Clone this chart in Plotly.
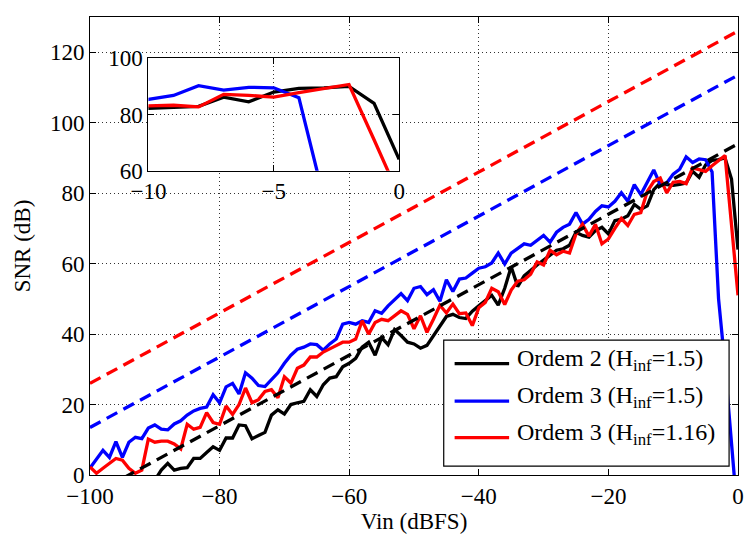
import plotly.graph_objects as go

# ---------------- data ----------------
vin = list(range(-100, 1))

snr_ordem2 = [
    -9, -7, -8, -6, -5, -6, -4, -3, -4, -2, -1.5,
    1.4, 3.3, 1.4, 1.9, 2.1, 4.7, 4.7, 6.4, 8.0, 7.0, 10.5, 10.5, 14.2, 14.0, 10.3,
    11.2, 12.1, 17.0, 18.5, 17.3, 20.0,
    20.5, 20.9, 24.2, 22.3, 25.6, 27.5, 27.9, 30.7, 31.7, 33.1, 36.3, 37.7, 34.0,
    39.0, 37.0, 41.3, 39.6, 37.7, 37.2, 36.0, 36.8, 39.6, 42.6, 45.0, 45.6, 44.7,
    44.4, 46.5, 48.0, 49.5, 51.0, 48.2, 53.0, 59.1, 53.5, 56.5, 58.2, 59.6, 61.0,
    62.4, 63.8, 64.2, 65.2, 68.9,
    68.0, 67.5, 69.4, 70.3, 68.4, 72.2, 72.6, 73.6, 76.8, 75.4, 76.4, 81.0, 82.9, 82.4,
    82.2, 82.5, 82.9, 86.2, 84.5, 88.0, 89.3, 89.5, 90.0, 84.0, 64.0,
]

snr_ordem3 = [
    2.0, 4.5, 7.0, 5.0, 9.5, 5.0, 9.3, 10.7, 10.3, 13.3, 14.2, 13.0, 12.8, 14.5,
    15.4, 17.0, 18.2, 18.9, 19.3, 22.8, 20.5, 25.0, 26.0, 23.0, 29.0, 27.5,
    25.4, 25.1, 27.0, 29.0, 31.7, 34.0, 35.7, 36.3, 37.2, 37.0, 35.4, 37.2, 38.6,
    42.8, 43.3, 42.8, 43.8, 43.3, 46.6, 45.9, 48.0, 49.6, 51.5,
    49.5, 53.0, 53.5, 51.2, 52.6, 49.3, 55.4, 52.1, 55.6, 55.9, 57.3, 58.7, 59.1,
    60.2, 63.0, 59.9, 63.0, 64.2, 65.6, 65.2, 66.6, 68.0, 66.1, 68.9, 70.3, 71.2,
    74.5, 71.2, 72.6, 74.8, 76.4, 76.1, 77.7, 80.1, 77.7, 82.4, 79.6, 82.9, 86.6,
    82.4, 82.9, 85.4,
    86.8, 90.3, 88.7, 89.7, 89.5, 86.0, 50.0, 31.0, 9.0, -13.0,
]

snr_ordem3_116 = [
    2.3, 0.5, 1.9, 3.3, 4.7, 4.2, 1.9, 0.5, 1.4, 10.2, 9.3, 9.6, 9.6, 8.8, 7.4,
    14.4, 13.0, 13.5, 17.7, 14.9, 14.4, 19.6, 17.2, 20.0, 24.7, 20.5,
    21.4, 23.7, 24.2, 21.9, 27.9, 26.1, 30.3, 31.2, 33.5, 33.5, 34.9, 35.8, 36.8,
    37.7, 37.7, 38.6, 43.8, 40.0, 43.3, 44.2, 43.8, 45.2, 46.6, 45.6,
    41.5, 45.2, 40.5, 44.2, 48.2, 46.0, 48.5, 45.8, 46.0, 42.4, 47.5, 49.0, 53.0,
    52.0, 48.4, 52.5, 55.0, 55.4, 57.0, 60.5, 59.6, 63.8, 62.5, 63.5, 63.0,
    68.4, 71.2, 67.8, 71.2, 65.6, 67.0, 70.0, 72.8, 70.8, 74.0, 74.5, 80.5, 83.3,
    84.3, 80.1,
    83.1, 83.3, 82.7, 87.2, 86.8, 86.2, 87.8, 89.3, 90.7, 71.0, 51.0,
]

ideal_x = [-100, 0]
ideal_ordem2 = [-6, 94]
ideal_ordem3 = [13.5, 113.5]
ideal_ordem3_116 = [26, 126]

series_names = ["Ordem 2 (H<sub>inf</sub>=1.5)",
                "Ordem 3 (H<sub>inf</sub>=1.5)",
                "Ordem 3 (H<sub>inf</sub>=1.16)"]
colors = ["#000000", "#0000ff", "#ff0000"]

x_ticks = [-100, -80, -60, -40, -20, 0]
y_ticks = [0, 20, 40, 60, 80, 100, 120]
inset_x_ticks = [-10, -5, 0]
inset_y_ticks = [60, 80, 100]

# ---------------- figure ----------------
FONT = "Liberation Serif"
LW = 3.3
fig = go.Figure()

solid = [snr_ordem2, snr_ordem3, snr_ordem3_116]
dashed = [ideal_ordem2, ideal_ordem3, ideal_ordem3_116]

for ys, c, n in zip(solid, colors, series_names):
    fig.add_trace(go.Scatter(x=vin, y=ys, mode="lines", name=n,
                             line=dict(color=c, width=LW), showlegend=False))
for ys, c in zip(dashed, colors):
    fig.add_trace(go.Scatter(x=ideal_x, y=ys, mode="lines",
                             line=dict(color=c, width=LW, dash="12px,7px"),
                             showlegend=False))
# inset
for ys, c in zip(solid, colors):
    fig.add_trace(go.Scatter(x=vin, y=ys, mode="lines", xaxis="x2", yaxis="y2",
                             line=dict(color=c, width=LW), showlegend=False))

W, H = 749, 538
ML, MR, MT, MB = 90, 5, 10, 63
pw = W - ML - MR
ph = H - MT - MB


def px(xp):
    return (xp - ML) / pw


def py(yp):
    return (H - MB - yp) / ph


grid = dict(showgrid=True, gridcolor="#333333", griddash="1px,3px", gridwidth=1)
axcommon = dict(showline=True, linecolor="black", linewidth=1, mirror="ticks",
                ticks="inside", ticklen=6, tickcolor="black", zeroline=False,
                tickfont=dict(family=FONT, size=23, color="black"))

fig.update_layout(
    width=W, height=H,
    margin=dict(l=ML, r=MR, t=MT, b=MB),
    paper_bgcolor="white", plot_bgcolor="white",
    font=dict(family=FONT, size=23, color="black"),
    xaxis=dict(range=[-100, 0], tickvals=x_ticks,
               ticktext=[str(v).replace("-", "\u2212") for v in x_ticks],
               title=dict(text="Vin (dBFS)", font=dict(family=FONT, size=23), standoff=4),
               **grid, **axcommon),
    yaxis=dict(range=[0, 130], tickvals=y_ticks,
               title=dict(text="SNR (dB)", font=dict(family=FONT, size=23), standoff=12),
               **grid, **axcommon),
    xaxis2=dict(domain=[px(149), px(402)], anchor="y2", range=[-10, 0],
                tickvals=inset_x_ticks,
                ticktext=[str(v).replace("-", "\u2212") for v in inset_x_ticks],
                **grid, **axcommon),
    yaxis2=dict(domain=[py(166), py(52)], anchor="x2", range=[60, 100],
                tickvals=inset_y_ticks, **grid, **axcommon),
    showlegend=False,
)

# manual legend box (MATLAB style)
lx0, lx1, ly0, ly1 = 447, 735, 466, 338
fig.add_shape(type="rect", xref="paper", yref="paper",
              x0=px(lx0), x1=px(lx1), y0=py(ly0), y1=py(ly1),
              line=dict(color="black", width=1.2), fillcolor="white", layer="above")
rows = [362, 400, 437]
for r, c, n in zip(rows, colors, series_names):
    fig.add_shape(type="line", xref="paper", yref="paper",
                  x0=px(458), x1=px(513), y0=py(r), y1=py(r),
                  line=dict(color=c, width=LW), layer="above")
    fig.add_annotation(xref="paper", yref="paper", x=px(519), y=py(r - 4),
                       text=n, showarrow=False, xanchor="left", yanchor="middle",
                       font=dict(family=FONT, size=24, color="black"))

fig.write_html("out.html")
